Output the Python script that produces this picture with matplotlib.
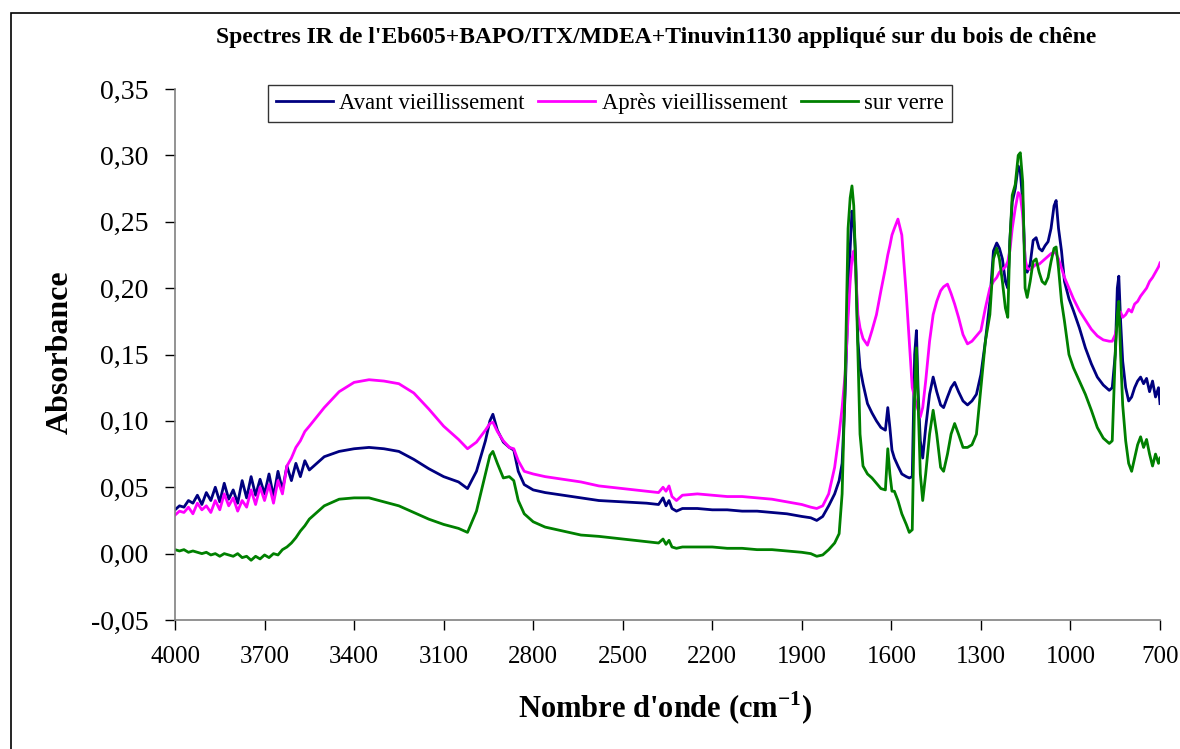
import matplotlib
matplotlib.use("Agg")
import matplotlib.pyplot as plt
from matplotlib.patches import Rectangle

plt.rcParams['font.family'] = ['Liberation Serif', 'DejaVu Serif']

wavenumber = [
    4000, 3985, 3970, 3955, 3940, 3925, 3910, 3895, 3880, 3865, 3850, 3835, 3820, 3805, 3790, 3775,
    3760, 3745, 3730, 3715, 3700, 3685, 3670, 3655, 3640, 3625, 3610, 3595, 3580, 3565, 3550,
    3500, 3450, 3400, 3350, 3300, 3250, 3200, 3150, 3100, 3050, 3020, 2990, 2960, 2945, 2935, 2920,
    2900, 2880, 2865, 2850, 2830, 2800, 2760, 2700, 2640, 2580, 2500, 2420, 2380, 2365, 2355, 2345,
    2335, 2320, 2300, 2250, 2200, 2150, 2100, 2050, 2000, 1950, 1900, 1870, 1850, 1830, 1810, 1790,
    1775, 1765, 1755, 1745, 1738, 1732, 1726, 1720, 1712, 1705, 1695, 1680, 1665, 1650, 1635, 1620,
    1612, 1605, 1598, 1590, 1578, 1565, 1550, 1540, 1530, 1522, 1516, 1510, 1503, 1495, 1485, 1472,
    1460, 1448, 1435, 1425, 1412, 1400, 1388, 1375, 1360, 1345, 1330, 1315, 1300, 1285, 1270, 1258,
    1247, 1238, 1228, 1218, 1210, 1203, 1195, 1185, 1175, 1168, 1160, 1152, 1145, 1135, 1125, 1115,
    1105, 1095, 1085, 1075, 1065, 1055, 1048, 1040, 1030, 1020, 1005, 990, 970, 950, 930, 910,
    890, 870, 860, 850, 843, 838, 832, 825, 815, 805, 795, 785, 775, 765, 755, 745,
    735, 725, 715, 705, 700,
]

avant = [
    0.033, 0.036, 0.035, 0.040, 0.038, 0.044, 0.037, 0.046, 0.040, 0.050, 0.039, 0.053, 0.041, 0.048, 0.038, 0.055,
    0.042, 0.058, 0.044, 0.056, 0.045, 0.060, 0.043, 0.062, 0.048, 0.066, 0.055, 0.068, 0.058, 0.070, 0.063,
    0.073, 0.077, 0.079, 0.080, 0.079, 0.077, 0.071, 0.064, 0.058, 0.054, 0.049, 0.062, 0.085, 0.100, 0.105, 0.093,
    0.084, 0.080, 0.078, 0.062, 0.052, 0.048, 0.046, 0.044, 0.042, 0.040, 0.039, 0.038, 0.037, 0.042, 0.036, 0.040,
    0.034, 0.032, 0.034, 0.034, 0.033, 0.033, 0.032, 0.032, 0.031, 0.030, 0.028, 0.027, 0.025, 0.028, 0.036, 0.045,
    0.055, 0.068, 0.120, 0.190, 0.230, 0.258, 0.250, 0.225, 0.160, 0.140, 0.128, 0.113, 0.106, 0.100, 0.095, 0.093,
    0.110, 0.095, 0.078, 0.072, 0.066, 0.060, 0.058, 0.057, 0.058, 0.150, 0.168, 0.120, 0.085, 0.072, 0.095, 0.120,
    0.133, 0.122, 0.112, 0.110, 0.118, 0.125, 0.129, 0.122, 0.115, 0.112, 0.115, 0.120, 0.135, 0.160, 0.190, 0.228,
    0.234, 0.230, 0.222, 0.205, 0.200, 0.236, 0.265, 0.275, 0.292, 0.288, 0.265, 0.220, 0.212, 0.218, 0.236, 0.238,
    0.230, 0.228, 0.232, 0.235, 0.245, 0.262, 0.266, 0.245, 0.228, 0.205, 0.192, 0.183, 0.170, 0.155, 0.143, 0.133,
    0.127, 0.123, 0.125, 0.150, 0.200, 0.209, 0.175, 0.145, 0.125, 0.115, 0.118, 0.125, 0.130, 0.133, 0.128, 0.132,
    0.122, 0.130, 0.118, 0.125, 0.113,
]

apres = [
    0.029, 0.032, 0.031, 0.035, 0.030, 0.038, 0.033, 0.036, 0.031, 0.040, 0.033, 0.045, 0.036, 0.042, 0.032, 0.040,
    0.035, 0.048, 0.037, 0.050, 0.040, 0.052, 0.038, 0.055, 0.045, 0.066, 0.072, 0.080, 0.085, 0.092, 0.096,
    0.110, 0.122, 0.129, 0.131, 0.130, 0.128, 0.121, 0.109, 0.096, 0.086, 0.079, 0.084, 0.093, 0.098, 0.099, 0.092,
    0.085, 0.080, 0.079, 0.070, 0.062, 0.060, 0.058, 0.056, 0.054, 0.051, 0.049, 0.047, 0.046, 0.050, 0.047, 0.051,
    0.043, 0.040, 0.044, 0.045, 0.044, 0.043, 0.043, 0.042, 0.041, 0.039, 0.037, 0.035, 0.034, 0.036, 0.045, 0.065,
    0.090, 0.110, 0.135, 0.178, 0.205, 0.222, 0.228, 0.215, 0.180, 0.170, 0.162, 0.157, 0.168, 0.180, 0.198, 0.215,
    0.225, 0.232, 0.240, 0.245, 0.252, 0.240, 0.195, 0.160, 0.125, 0.118, 0.112, 0.108, 0.103, 0.110, 0.130, 0.160,
    0.180, 0.190, 0.198, 0.201, 0.203, 0.196, 0.188, 0.178, 0.165, 0.158, 0.160, 0.164, 0.168, 0.185, 0.200, 0.205,
    0.208, 0.212, 0.214, 0.216, 0.220, 0.228, 0.245, 0.260, 0.272, 0.270, 0.255, 0.222, 0.215, 0.214, 0.216, 0.218,
    0.218, 0.220, 0.222, 0.224, 0.226, 0.227, 0.226, 0.222, 0.215, 0.208, 0.200, 0.192, 0.183, 0.176, 0.169, 0.164,
    0.161, 0.160, 0.160, 0.165, 0.172, 0.180, 0.182, 0.178, 0.180, 0.184, 0.182, 0.188, 0.190, 0.194, 0.197, 0.200,
    0.205, 0.208, 0.212, 0.216, 0.219,
]

verre = [
    0.003, 0.002, 0.003, 0.001, 0.002, 0.001, 0.000, 0.001, -0.001, 0.000, -0.002, 0.000, -0.001, -0.002, 0.000, -0.003,
    -0.002, -0.005, -0.002, -0.004, -0.001, -0.003, 0.000, -0.001, 0.003, 0.005, 0.008, 0.012, 0.017, 0.021, 0.026,
    0.036, 0.041, 0.042, 0.042, 0.039, 0.036, 0.031, 0.026, 0.022, 0.019, 0.016, 0.032, 0.060, 0.074, 0.077, 0.068,
    0.057, 0.058, 0.055, 0.040, 0.030, 0.024, 0.020, 0.017, 0.014, 0.013, 0.011, 0.009, 0.008, 0.011, 0.007, 0.010,
    0.005, 0.004, 0.005, 0.005, 0.005, 0.004, 0.004, 0.003, 0.003, 0.002, 0.001, 0.000, -0.002, -0.001, 0.003, 0.008,
    0.015, 0.045, 0.130, 0.245, 0.268, 0.277, 0.262, 0.220, 0.150, 0.090, 0.066, 0.060, 0.057, 0.053, 0.049, 0.048,
    0.079, 0.060, 0.047, 0.047, 0.040, 0.030, 0.022, 0.016, 0.018, 0.120, 0.155, 0.110, 0.060, 0.040, 0.060, 0.090,
    0.108, 0.090, 0.065, 0.062, 0.075, 0.090, 0.098, 0.090, 0.080, 0.080, 0.082, 0.090, 0.125, 0.160, 0.180, 0.222,
    0.230, 0.222, 0.205, 0.185, 0.178, 0.235, 0.270, 0.278, 0.300, 0.302, 0.280, 0.200, 0.193, 0.205, 0.220, 0.222,
    0.212, 0.205, 0.203, 0.208, 0.220, 0.230, 0.231, 0.215, 0.190, 0.175, 0.150, 0.140, 0.130, 0.120, 0.108, 0.095,
    0.087, 0.083, 0.085, 0.150, 0.180, 0.190, 0.150, 0.112, 0.085, 0.068, 0.062, 0.072, 0.082, 0.088, 0.080, 0.086,
    0.075, 0.066, 0.075, 0.068, 0.072,
]

series_labels = ["Avant vieillissement", "Après vieillissement", "sur verre"]
series_colors = ["#000080", "#FF00FF", "#008000"]
x_ticks = [4000, 3700, 3400, 3100, 2800, 2500, 2200, 1900, 1600, 1300, 1000, 700]
y_ticks = [-0.05, 0.00, 0.05, 0.10, 0.15, 0.20, 0.25, 0.30, 0.35]

fig = plt.figure(figsize=(11.8, 7.49), dpi=100)
ax = fig.add_axes([175 / 1180, 1 - 620 / 749, (1160 - 175) / 1180, (620 - 89) / 749])

for vals, lab, col in zip([avant, apres, verre], series_labels, series_colors):
    ax.plot(wavenumber, vals, color=col, lw=2.0, label=lab)

ax.set_xlim(4000, 700)
ax.set_ylim(-0.05, 0.35)
ax.set_xticks(x_ticks)
ax.set_xticklabels([str(t) for t in x_ticks])
ax.set_yticks(y_ticks)
ax.set_yticklabels([f"{t:.2f}".replace(".", ",") for t in y_ticks])

for s in ["top", "right"]:
    ax.spines[s].set_visible(False)
for s in ["left", "bottom"]:
    ax.spines[s].set_color("#808080")
    ax.spines[s].set_linewidth(1.2)
ax.tick_params(axis="y", direction="out", length=7, width=1, color="#000000", labelsize=20, pad=12)
ax.tick_params(axis="x", direction="out", length=7, width=1, color="#000000", labelsize=18, pad=12)

fig.text(656 / 1180, 1 - 37 / 749, "Spectres IR de l'Eb605+BAPO/ITX/MDEA+Tinuvin1130 appliqué sur du bois de chêne",
         ha="center", va="center", fontsize=17, fontweight="bold")
fig.text(60 / 1180, 1 - 352 / 749, "Absorbance", rotation=90, ha="center", va="center",
         fontsize=23, fontweight="bold")
fig.text(665 / 1180, 1 - 708 / 749, "Nombre d'onde (cm$^{\\mathregular{-1}}$)", ha="center", va="center",
         fontsize=22, fontweight="bold")

leg = ax.legend(loc="upper left", bbox_to_anchor=(268 / 1180, 1 - 85 / 749), bbox_transform=fig.transFigure,
                ncol=3, fontsize=16.3, frameon=True, fancybox=False, borderaxespad=0, borderpad=0.35,
                handlelength=2.5, handletextpad=0.3, columnspacing=0.6)
leg.get_frame().set_edgecolor("black")
leg.get_frame().set_linewidth(1.0)
for line in leg.get_lines():
    line.set_linewidth(2)

fig.patches.append(Rectangle((11 / 1180, -0.5), 2.0, 1 - 13 / 749 + 0.5, transform=fig.transFigure,
                             fill=False, edgecolor="black", lw=1.2))

fig.savefig("out.png", dpi=100)
